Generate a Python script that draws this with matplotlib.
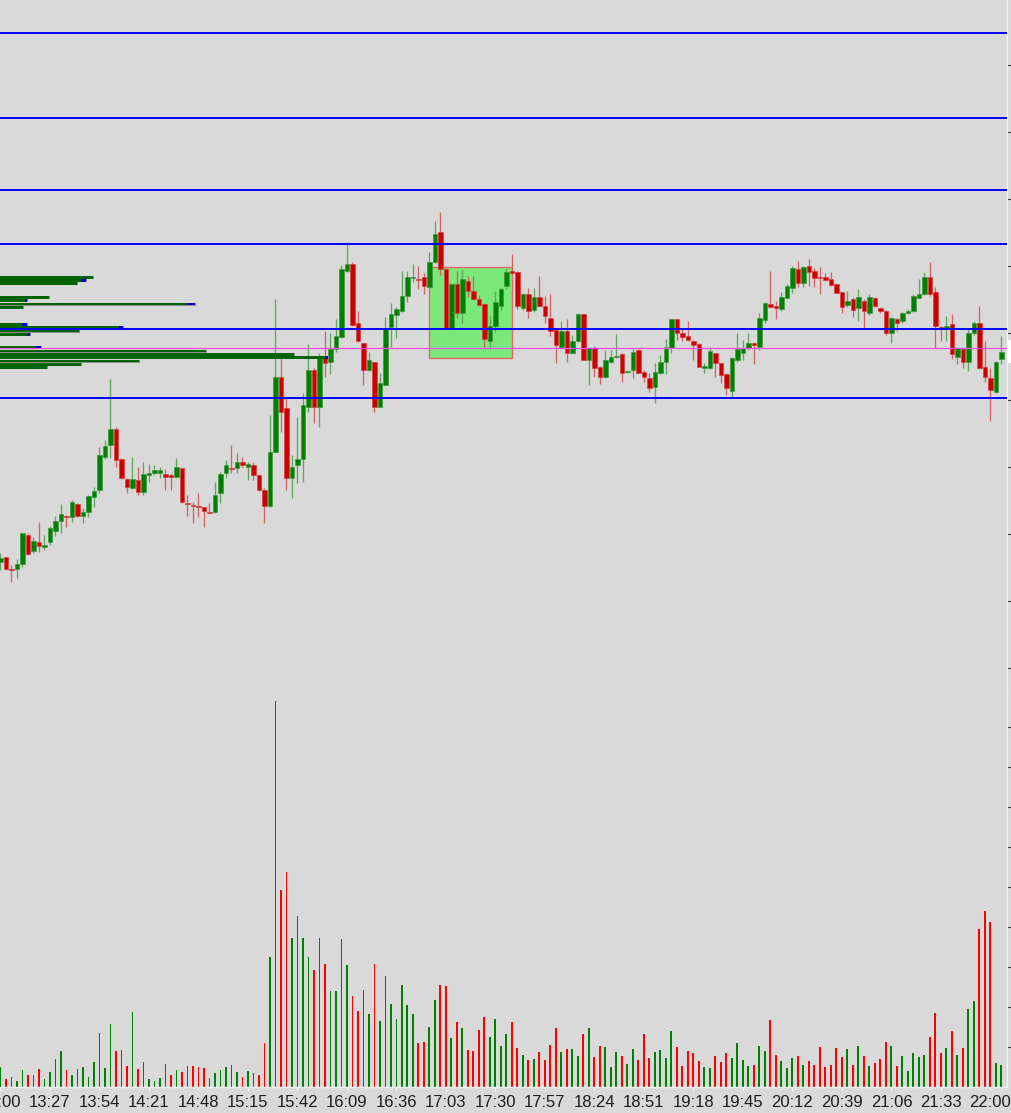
import matplotlib
matplotlib.use("Agg")
import matplotlib.pyplot as plt
from matplotlib.patches import Rectangle
import numpy as np

# ---------------- data (price units, 3-minute candles from 13:00) ----------------
opens = [137.7, 142.7, 130.3, 131.0, 136.0, 165.0, 149.3, 157.7, 153.3, 158.3,
         169.3, 179.3, 184.3, 183.3, 196.0, 184.3, 187.7, 202.7, 210.0, 243.3,
         255.0, 271.0, 241.0, 221.0, 211.7, 220.0, 207.7, 225.0, 226.7, 226.7,
         226.0, 225.0, 223.3, 231.7, 197.0, 195.0, 194.3, 193.3, 188.0, 187.7,
         206.7, 226.7, 232.0, 231.7, 237.7, 232.7, 235.0, 225.0, 210.0, 194.0,
         248.3, 323.3, 291.7, 221.7, 235.0, 241.0, 293.3, 330.0, 293.3, 342.3,
         338.3, 351.0, 363.3, 429.0, 436.0, 376.7, 356.7, 330.0, 338.3, 293.3,
         315.0, 373.3, 385.0, 389.0, 404.0, 422.3, 421.0, 422.7, 412.7, 437.7,
         467.7, 430.7, 371.7, 415.7, 386.7, 419.0, 409.0, 401.0, 395.7, 359.3,
         374.0, 394.0, 414.0, 429.0, 427.7, 391.7, 405.7, 390.0, 402.7, 394.0,
         382.3, 370.0, 353.3, 369.0, 346.7, 359.0, 385.7, 340.0, 351.7, 333.3,
         323.3, 338.3, 343.0, 345.7, 327.7, 330.0, 350.0, 328.3, 321.7, 313.3,
         326.7, 338.3, 352.3, 380.7, 366.7, 364.0, 359.0, 355.7, 331.7, 331.7,
         346.7, 336.7, 325.7, 309.3, 340.0, 346.7, 351.7, 356.7, 353.3, 380.0,
         395.7, 394.0, 390.7, 402.3, 412.3, 430.7, 417.3, 434.0, 429.0, 423.0,
         422.7, 420.7, 415.7, 407.7, 395.0, 401.0, 391.7, 399.3, 386.7, 402.3,
         391.7, 389.0, 366.7, 380.7, 379.0, 386.7, 389.0, 402.3, 405.7, 422.7,
         407.7, 372.7, 371.7, 375.7, 343.3, 350.7, 337.7, 367.3, 376.7, 333.3,
         321.7, 308.3, 340.7]
highs = [147.3, 143.3, 135.0, 140.7, 167.3, 166.7, 162.7, 177.7, 165.0, 174.3,
         184.0, 196.0, 185.0, 200.0, 196.7, 191.7, 205.0, 212.7, 253.3, 260.0,
         320.7, 273.3, 241.7, 221.7, 243.3, 232.7, 237.7, 236.0, 235.0, 233.3,
         230.7, 226.7, 241.7, 231.7, 205.0, 198.3, 206.7, 193.3, 196.7, 217.7,
         228.3, 240.0, 255.0, 246.7, 243.3, 238.3, 237.7, 225.0, 211.7, 285.0,
         400.7, 344.0, 303.3, 245.0, 283.3, 306.7, 356.0, 331.7, 347.3, 369.0,
         366.7, 380.7, 435.0, 457.7, 438.3, 389.0, 357.3, 348.3, 338.3, 326.7,
         383.3, 397.3, 393.3, 429.3, 429.3, 436.0, 434.0, 427.3, 447.7, 479.3,
         487.7, 431.7, 416.7, 429.0, 431.0, 424.0, 424.0, 405.0, 397.3, 384.0,
         409.0, 411.7, 431.7, 446.0, 429.3, 406.7, 411.7, 411.7, 424.0, 404.0,
         405.7, 370.7, 379.0, 381.0, 365.0, 386.7, 385.7, 352.3, 354.0, 334.0,
         350.0, 350.0, 365.7, 346.7, 329.0, 351.7, 350.7, 330.0, 326.7, 336.7,
         345.0, 360.7, 381.3, 381.0, 370.7, 379.3, 360.0, 356.7, 337.3, 353.3,
         347.3, 337.3, 326.7, 343.3, 367.3, 360.0, 366.7, 358.3, 387.3, 398.3,
         429.0, 399.0, 408.3, 415.7, 434.0, 439.0, 434.0, 440.7, 431.7, 432.7,
         426.7, 427.7, 417.3, 408.3, 409.3, 403.3, 410.7, 400.7, 405.7, 403.3,
         393.3, 390.0, 382.7, 381.7, 387.7, 390.7, 405.7, 420.7, 427.7, 437.7,
         412.7, 374.0, 384.0, 385.7, 353.3, 352.3, 371.7, 379.3, 394.0, 359.0,
         331.7, 339.0, 364.3]
lows = [130.0, 130.0, 117.7, 121.7, 133.3, 145.0, 146.7, 148.3, 150.0, 155.0,
        164.0, 167.3, 173.3, 178.3, 183.3, 176.7, 183.3, 193.3, 206.7, 240.7,
        241.7, 233.3, 220.7, 206.7, 210.7, 205.0, 205.0, 218.3, 225.0, 221.7,
        210.0, 210.0, 222.3, 196.7, 184.3, 176.7, 183.3, 173.3, 186.0, 186.7,
        196.7, 221.7, 226.7, 226.7, 233.3, 220.0, 220.0, 209.3, 176.7, 193.3,
        248.3, 268.3, 210.0, 201.7, 216.7, 218.3, 288.3, 276.7, 273.3, 323.3,
        325.7, 348.3, 361.7, 428.3, 374.0, 358.3, 315.0, 329.3, 288.3, 292.7,
        314.7, 353.3, 362.3, 388.3, 398.3, 418.3, 410.7, 406.0, 411.7, 436.7,
        425.0, 371.7, 371.7, 381.7, 376.7, 402.7, 400.0, 394.0, 353.3, 353.3,
        367.7, 390.0, 410.7, 427.3, 390.7, 390.0, 382.3, 388.3, 392.7, 377.3,
        364.0, 337.3, 352.3, 338.3, 346.0, 358.3, 340.0, 315.0, 323.3, 315.7,
        322.3, 336.7, 342.3, 318.3, 326.7, 321.7, 326.7, 318.3, 308.3, 297.3,
        326.0, 326.0, 346.7, 360.0, 359.0, 359.0, 340.0, 332.7, 327.3, 330.7,
        323.3, 316.7, 305.0, 302.7, 338.3, 340.0, 350.0, 335.7, 350.0, 377.3,
        391.7, 380.7, 389.3, 401.7, 407.3, 412.7, 413.3, 414.3, 413.3, 406.0,
        419.3, 414.0, 406.7, 387.3, 393.3, 382.7, 379.3, 370.7, 385.0, 392.7,
        386.7, 365.0, 357.3, 369.3, 377.3, 386.0, 388.3, 401.7, 405.0, 404.0,
        351.7, 359.3, 359.0, 341.0, 336.0, 332.3, 329.0, 365.0, 330.7, 318.3,
        279.0, 307.3, 335.7]
closes = [141.7, 130.7, 129.7, 136.0, 166.7, 146.0, 159.3, 154.3, 155.0, 171.7,
          179.3, 186.0, 182.7, 197.7, 184.3, 187.7, 204.3, 209.3, 245.0, 254.3,
          271.0, 240.0, 221.7, 212.7, 221.0, 207.7, 226.0, 226.7, 230.0, 230.0,
          222.7, 222.7, 232.7, 197.7, 196.3, 194.3, 192.7, 189.3, 187.3, 205.0,
          226.0, 235.0, 231.3, 237.7, 235.0, 236.0, 225.0, 210.0, 194.3, 248.3,
          323.3, 288.3, 221.7, 232.7, 241.0, 295.0, 330.0, 293.3, 341.7, 337.3,
          350.7, 364.0, 430.7, 436.0, 375.0, 359.3, 330.0, 340.0, 293.3, 317.3,
          371.7, 385.7, 390.7, 404.0, 422.7, 423.0, 420.3, 414.0, 437.7, 466.0,
          430.7, 372.3, 415.7, 386.7, 420.7, 409.0, 400.7, 395.0, 360.7, 374.0,
          397.7, 410.7, 427.7, 427.3, 394.0, 405.7, 389.0, 402.7, 394.0, 384.0,
          369.0, 355.0, 369.3, 347.3, 359.0, 385.7, 340.0, 351.7, 331.7, 323.3,
          340.0, 343.3, 343.7, 326.7, 328.7, 348.3, 327.3, 323.3, 311.7, 328.3,
          338.3, 353.3, 380.7, 366.7, 363.3, 360.0, 355.0, 333.3, 334.0, 349.0,
          336.7, 325.0, 311.7, 341.7, 350.7, 351.7, 356.7, 355.0, 381.7, 397.3,
          393.3, 391.7, 402.7, 414.0, 432.3, 417.3, 432.7, 428.3, 422.3, 422.3,
          420.0, 415.0, 407.3, 393.3, 399.0, 390.0, 402.7, 389.0, 402.7, 394.0,
          389.0, 366.7, 381.7, 377.3, 387.3, 389.0, 404.0, 405.7, 422.7, 405.7,
          374.0, 370.7, 374.0, 345.7, 351.7, 338.3, 366.7, 376.7, 331.7, 323.3,
          310.0, 338.3, 348.3]
volumes = [20.7, 8.0, 10.0, 6.7, 17.3, 12.0, 12.3, 18.0, 8.3, 15.0,
           28.0, 36.3, 17.3, 12.0, 18.0, 20.7, 10.0, 25.0, 54.3, 19.0,
           63.3, 36.3, 37.3, 21.7, 75.0, 18.0, 25.0, 8.0, 6.7, 9.3,
           23.0, 12.0, 17.3, 15.3, 21.0, 21.3, 20.0, 19.3, 9.0, 14.0,
           17.3, 20.0, 22.0, 15.0, 10.0, 16.3, 14.0, 12.0, 44.3, 130.3,
           386.7, 197.3, 215.3, 149.7, 171.0, 149.7, 130.3, 117.0, 149.0, 123.0,
           96.3, 96.3, 148.0, 122.0, 91.0, 76.3, 97.3, 73.3, 123.3, 66.3,
           111.3, 83.0, 68.0, 102.3, 82.3, 73.0, 44.3, 45.7, 60.0, 87.0,
           102.0, 101.3, 49.0, 65.3, 59.0, 37.0, 36.0, 57.0, 70.0, 50.0,
           68.0, 41.3, 53.3, 65.3, 39.3, 32.3, 27.0, 28.3, 35.3, 27.0,
           42.3, 59.0, 35.3, 38.3, 38.3, 31.3, 53.0, 59.3, 30.3, 41.0,
           40.0, 20.0, 35.0, 31.0, 23.7, 38.0, 27.0, 53.0, 29.7, 35.3,
           37.3, 29.5, 56.0, 40.0, 21.0, 36.0, 34.0, 26.0, 20.3, 19.0,
           31.3, 25.0, 34.3, 29.0, 44.0, 27.3, 21.3, 22.0, 41.3, 36.3,
           67.0, 32.3, 26.0, 19.3, 29.3, 31.3, 22.0, 26.0, 22.7, 40.0,
           20.3, 22.0, 39.0, 30.0, 38.0, 22.0, 41.3, 31.3, 21.3, 24.0,
           28.0, 45.0, 41.0, 21.0, 31.3, 16.3, 34.0, 30.0, 32.3, 50.0,
           74.3, 34.3, 39.0, 56.0, 32.7, 39.0, 78.0, 86.3, 158.3, 176.3,
           165.0, 24.0, 22.0]
tick_labels = ["13:00", "13:27", "13:54", "14:21", "14:48", "15:15", "15:42",
               "16:09", "16:36", "17:03", "17:30", "17:57", "18:24", "18:51",
               "19:18", "19:45", "20:12", "20:39", "21:06", "21:33", "22:00"]

# horizontal levels
blue_levels = [667.0, 582.0, 510.0, 456.5, 370.7, 302.3]
poc_level = 351.8

# session box (candle index range, price range)
box_start, box_end = 78, 93
box_low, box_high = 341.7, 432.7

# volume profile rows
profile_prices = [422.7, 419.3, 416.3, 402.7, 399.3, 396.0, 392.7, 375.7, 372.3,
                  369.0, 365.7, 352.3, 349.0, 345.7, 342.3, 339.0, 335.7, 332.3]
profile_sizes = [93, 86, 77, 49, 27, 195, 23, 27, 123, 79, 30, 41, 206, 294, 328,
                 139, 81, 47]
profile_delta = [0, 5, 0, 0, 2, 7, 0, 5, 4, 0, 2, 5, 0, 0, 3, 0, 0, 0]

# ---------------- figure ----------------
W, H = 1011, 1113
BG = "#d9d9d9"
fig = plt.figure(figsize=(W / 100, H / 100), dpi=100, facecolor=BG)

axis_x_px = 1006.7
price_bottom_px = 690.0
vol_base_px = 1087.3

ax = fig.add_axes([0, (H - price_bottom_px) / H, axis_x_px / W, price_bottom_px / H])
axv = fig.add_axes([0, (H - vol_base_px) / H, axis_x_px / W,
                    (vol_base_px - price_bottom_px) / H])
for a in (ax, axv):
    a.set_facecolor(BG)
    for s in ("top", "left", "bottom"):
        a.spines[s].set_visible(False)
    a.spines["right"].set_color("#f4f4f4")
    a.spines["right"].set_linewidth(1.0)

n = len(opens)
x = np.arange(n)
o = np.array(opens); c = np.array(closes)
h = np.array(highs); l = np.array(lows)
up = c >= o

xmin, xmax = -0.0909, 182.95
ax.set_xlim(xmin, xmax)
axv.set_xlim(xmin, xmax)
ax.set_ylim(10, 700)
axv.set_ylim(0, vol_base_px - price_bottom_px)

GREEN = "#008000"
RED = "#cc0000"
wick_cols = np.where(up, "#5ea85e", "#d26464")
body_cols = np.where(up, GREEN, RED)
edge_cols = np.where(up, "#3f993f", "#d84040")

# session box
ax.add_patch(Rectangle((box_start, box_low), box_end - box_start, box_high - box_low,
                       facecolor="#7be87b", edgecolor="#e46a6a", linewidth=1.0, zorder=1))

# candles
ax.vlines(x, l, h, colors=wick_cols, linewidth=0.95, zorder=2)
bottoms = np.minimum(o, c)
heights = np.maximum(np.abs(c - o), 0.9)
ax.bar(x, heights, bottom=bottoms, width=0.76, color=body_cols,
       edgecolor=edge_cols, linewidth=0.5, zorder=3)

# volume profile (left)
px_per_idx = 5.5
for p, s, d in zip(profile_prices, profile_sizes, profile_delta):
    ln = s / px_per_idx
    # grey shadow (right / bottom)
    ax.add_patch(Rectangle((xmin, p - 1.75), ln + 0.18, 3.1, facecolor="#8c8c8c",
                           edgecolor="none", zorder=4))
    ax.add_patch(Rectangle((xmin, p - 1.2), ln, 2.6, facecolor="#006400",
                           edgecolor="none", zorder=4.05))
    if d > 0:
        dl = d / px_per_idx
        ax.add_patch(Rectangle((xmin + ln - dl, p - 1.2), dl, 2.6, facecolor="#0000d0",
                               edgecolor="none", zorder=4.1))

# horizontal levels
for lv in blue_levels:
    ax.axhline(lv, color="#0000ff", linewidth=1.4, zorder=5)
ax.axhline(poc_level, color="#ff4cff", linewidth=0.9, zorder=5)

# price axis ticks (labels lie beyond the visible area)
ax.yaxis.tick_right()
ax.set_yticks(np.arange(31.7, 700, 67.0))
ax.set_yticklabels([])
ax.tick_params(axis="y", length=3, color="#303030", width=0.8)
ax.set_xticks([])

# volume bars
vol_cols = np.where(up, GREEN, "#ff0000")
axv.bar(x, volumes, width=0.36, color=vol_cols, linewidth=0, zorder=2)
axv.spines["bottom"].set_visible(True)
axv.spines["bottom"].set_color("#f4f4f4")
axv.spines["bottom"].set_linewidth(1.0)
axv.yaxis.tick_right()
axv.set_yticks(np.arange(40, 390, 40))
axv.set_yticklabels([])
axv.tick_params(axis="y", length=3, color="#303030", width=0.8)
axv.set_xticks(x[::9])
axv.set_xticklabels(tick_labels)
axv.tick_params(axis="x", length=3, color="#f4f4f4", pad=2.5, labelsize=12,
                labelcolor="#1e1e1e")
for t in axv.get_xticklabels():
    t.set_fontfamily(["Liberation Sans Narrow", "Liberation Sans", "DejaVu Sans"])

# current price label box at the right edge (cut off)
fig.add_artist(Rectangle(((axis_x_px + 1) / W, (H - 363) / H), 6 / W, 23 / H,
                         transform=fig.transFigure, facecolor="white",
                         edgecolor="none"))

fig.savefig("out.png", dpi=100, facecolor=BG)
